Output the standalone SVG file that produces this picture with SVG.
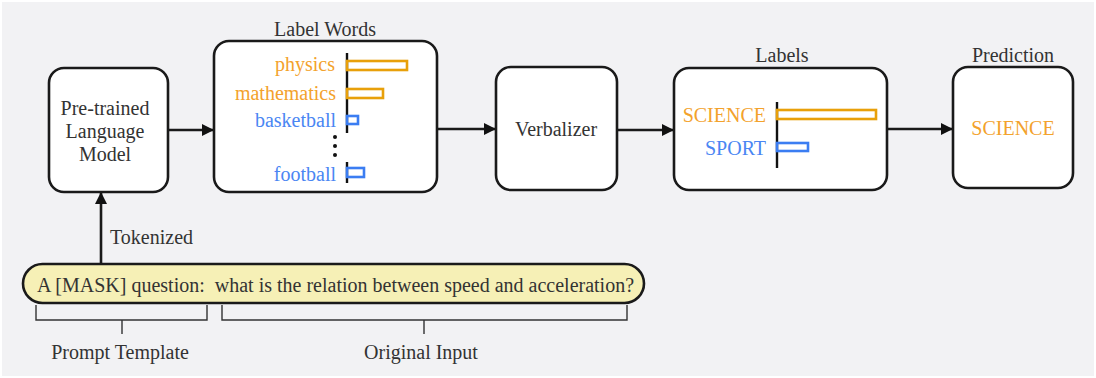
<svg xmlns="http://www.w3.org/2000/svg" width="1096" height="378" viewBox="0 0 1096 378">
  <style>
    .box { fill: #ffffff; stroke: #1a1a1a; stroke-width: 2.6; }
    .t { font-family: 'Liberation Serif', 'DejaVu Serif', 'Times New Roman', serif; font-size: 20px; fill: #333333; }
    .mid { text-anchor: middle; }
    .end { text-anchor: end; }
    .or { fill: #f3a22c; }
    .bl { fill: #4a86f3; }
    .bar-or { fill: none; stroke: #e8a00a; stroke-width: 2.6; }
    .bar-bl { fill: none; stroke: #3b7df2; stroke-width: 2.6; }
    .axis { stroke: #111111; stroke-width: 2.4; }
    .edge { stroke: #1a1a1a; stroke-width: 2.6; fill: none; }
    .brace { stroke: #333333; stroke-width: 1.4; fill: none; }
  </style>
  <defs>
    <marker id="arrow" viewBox="0 0 12 12" refX="11" refY="6" markerWidth="12" markerHeight="12" markerUnits="userSpaceOnUse" orient="auto">
      <path d="M0,0 L12,6 L0,12 Z" fill="#111111"/>
    </marker>
  </defs>

  <rect x="0" y="0" width="1096" height="378" fill="#ffffff"/>
  <rect x="2" y="2" width="1092" height="374" fill="#f2f2f4"/>

  <g font-family="Liberation Serif, DejaVu Serif, serif">
  <!-- connectors -->
  <g id="connectors">
    <line class="edge" x1="168" y1="130" x2="213" y2="130" marker-end="url(#arrow)"/>
    <line class="edge" x1="437" y1="129" x2="495" y2="129" marker-end="url(#arrow)"/>
    <line class="edge" x1="617" y1="130" x2="673" y2="130" marker-end="url(#arrow)"/>
    <line class="edge" x1="887" y1="129" x2="952" y2="129" marker-end="url(#arrow)"/>
    <line class="edge" x1="101" y1="263" x2="101" y2="193" marker-end="url(#arrow)"/>
    <text class="t" x="110" y="244">Tokenized</text>
  </g>

  <!-- language model -->
  <g id="plm">
    <rect class="box" x="49" y="68" width="119" height="124" rx="15"/>
    <text class="t mid" x="105" y="115">Pre-trained</text>
    <text class="t mid" x="105" y="138">Language</text>
    <text class="t mid" x="105" y="161">Model</text>
  </g>

  <!-- label word scores -->
  <g id="label-words">
    <text class="t mid" x="325" y="36">Label Words</text>
    <rect class="box" x="214" y="41" width="223" height="151" rx="15"/>
    <line class="axis" x1="347" y1="53" x2="347" y2="133"/>
    <line class="axis" x1="347" y1="162" x2="347" y2="183"/>
    <rect class="bar-or" x="347" y="61" width="60" height="9"/>
    <rect class="bar-or" x="347" y="89" width="36" height="9"/>
    <rect class="bar-bl" x="347" y="116" width="11" height="8"/>
    <rect class="bar-bl" x="347" y="168" width="17" height="9"/>
    <text class="t end or" x="335" y="71">physics</text>
    <text class="t end or" x="336" y="100">mathematics</text>
    <text class="t end bl" x="336" y="127">basketball</text>
    <text class="t end bl" x="336" y="181">football</text>
    <circle cx="335" cy="137" r="2" fill="#111111"/>
    <circle cx="335" cy="146" r="2" fill="#111111"/>
    <circle cx="335" cy="155" r="2" fill="#111111"/>
  </g>

  <!-- verbalizer -->
  <g id="verbalizer">
    <rect class="box" x="496" y="67" width="121" height="123" rx="15"/>
    <text class="t mid" x="556" y="136">Verbalizer</text>
  </g>

  <!-- class scores -->
  <g id="labels">
    <text class="t mid" x="782" y="62">Labels</text>
    <rect class="box" x="674" y="68" width="213" height="122" rx="15"/>
    <line class="axis" x1="777" y1="102" x2="777" y2="168"/>
    <rect class="bar-or" x="777" y="110" width="99" height="9"/>
    <rect class="bar-bl" x="777" y="143" width="31" height="8"/>
    <text class="t end or" x="766" y="122">SCIENCE</text>
    <text class="t end bl" x="766" y="155">SPORT</text>
  </g>

  <!-- prediction -->
  <g id="prediction">
    <text class="t mid" x="1013" y="62">Prediction</text>
    <rect class="box" x="953" y="67" width="120" height="121" rx="15"/>
    <text class="t mid or" x="1013" y="135">SCIENCE</text>
  </g>

  <!-- input sentence -->
  <g id="input">
    <rect x="23" y="264" width="621" height="39" rx="19.5" fill="#f6f0b6" stroke="#1a1a1a" stroke-width="2.6"/>
    <text class="t" x="37" y="292" xml:space="preserve">A [MASK] question:  what is the relation between speed and acceleration?</text>
  </g>

  <!-- spans under the sentence -->
  <g id="prompt-template">
    <path class="brace" d="M36,305 V320 H207 V305 M122,320 V334"/>
    <text class="t mid" x="120" y="359">Prompt Template</text>
  </g>
  <g id="original-input">
    <path class="brace" d="M222,305 V320 H627 V305 M424,320 V334"/>
    <text class="t mid" x="421" y="359">Original Input</text>
  </g>
  </g>
</svg>
